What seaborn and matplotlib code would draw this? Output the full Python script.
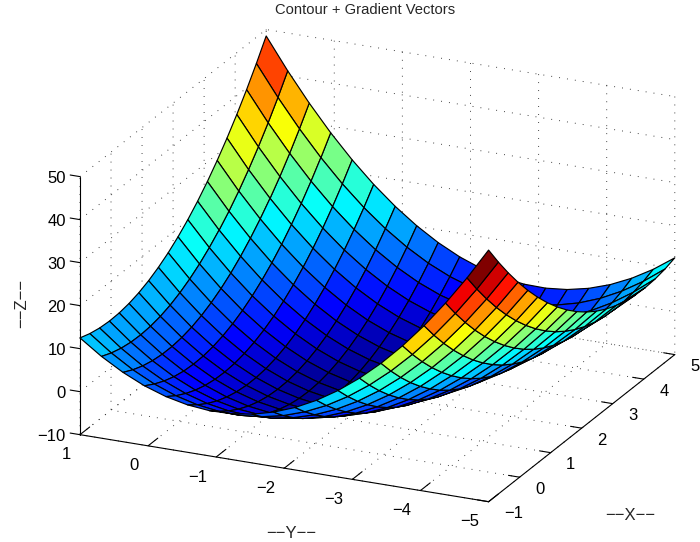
import matplotlib
matplotlib.use("Agg")
import matplotlib.pyplot as plt
from matplotlib.colors import LinearSegmentedColormap, Normalize
import numpy as np
import seaborn as sns

x_values = [-1.0, -0.684, -0.368, -0.053, 0.263, 0.579, 0.895, 1.211, 1.526, 1.842,
            2.158, 2.474, 2.789, 3.105, 3.421, 3.737, 4.053, 4.368, 4.684, 5.0]
y_values = [-5.0, -4.684, -4.368, -4.053, -3.737, -3.421, -3.105, -2.789, -2.474, -2.158,
            -1.842, -1.526, -1.211, -0.895, -0.579, -0.263, 0.053, 0.368, 0.684, 1.0]
z_values = [
    [48.50,41.22,34.54,28.46,22.97,18.08,13.80,10.11,7.02,4.52,2.63,1.33,0.63,0.53,1.03,2.13,3.82,6.12,9.01,12.50],
    [43.91,36.83,30.35,24.47,19.18,14.49,10.41,6.92,4.02,1.73,0.03,-1.06,-1.56,-1.46,-0.76,0.53,2.43,4.92,8.01,11.70],
    [39.62,32.74,26.46,20.78,15.69,11.20,7.31,4.02,1.33,-0.76,-2.26,-3.16,-3.46,-3.16,-2.26,-0.76,1.33,4.02,7.31,11.20],
    [35.64,28.95,22.87,17.39,12.50,8.21,4.52,1.43,-1.06,-2.96,-4.25,-4.95,-5.05,-4.55,-3.46,-1.76,0.53,3.43,6.92,11.00],
    [31.95,25.46,19.58,14.30,9.61,5.52,2.03,-0.86,-3.16,-4.85,-5.95,-6.45,-6.35,-5.65,-4.35,-2.46,0.03,3.13,6.82,11.10],
    [28.56,22.27,16.59,11.50,7.02,3.13,-0.16,-2.86,-4.95,-6.45,-7.34,-7.64,-7.34,-6.45,-4.95,-2.86,-0.16,3.13,7.02,11.50],
    [25.46,19.38,13.90,9.01,4.72,1.03,-2.06,-4.55,-6.45,-7.74,-8.44,-8.54,-8.04,-6.95,-5.25,-2.96,-0.07,3.43,7.51,12.20],
    [22.67,16.79,11.50,6.82,2.73,-0.76,-3.65,-5.95,-7.64,-8.74,-9.24,-9.14,-8.44,-7.15,-5.25,-2.76,0.33,4.02,8.31,13.20],
    [20.18,14.50,9.41,4.92,1.03,-2.26,-4.95,-7.05,-8.54,-9.44,-9.74,-9.44,-8.54,-7.05,-4.95,-2.26,1.03,4.92,9.41,14.50],
    [17.99,12.50,7.61,3.33,-0.36,-3.46,-5.95,-7.84,-9.14,-9.84,-9.94,-9.44,-8.34,-6.65,-4.35,-1.46,2.03,6.12,10.81,16.09],
    [16.09,10.81,6.12,2.03,-1.46,-4.35,-6.65,-8.34,-9.44,-9.94,-9.84,-9.14,-7.84,-5.95,-3.46,-0.36,3.33,7.61,12.50,17.99],
    [14.50,9.41,4.92,1.03,-2.26,-4.95,-7.05,-8.54,-9.44,-9.74,-9.44,-8.54,-7.05,-4.95,-2.26,1.03,4.92,9.41,14.50,20.18],
    [13.20,8.31,4.02,0.33,-2.76,-5.25,-7.15,-8.44,-9.14,-9.24,-8.74,-7.64,-5.95,-3.65,-0.76,2.73,6.82,11.50,16.79,22.67],
    [12.20,7.51,3.43,-0.07,-2.96,-5.25,-6.95,-8.04,-8.54,-8.44,-7.74,-6.45,-4.55,-2.06,1.03,4.72,9.01,13.90,19.38,25.46],
    [11.50,7.02,3.13,-0.16,-2.86,-4.95,-6.45,-7.34,-7.64,-7.34,-6.45,-4.95,-2.86,-0.16,3.13,7.02,11.50,16.59,22.27,28.56],
    [11.10,6.82,3.13,0.03,-2.46,-4.35,-5.65,-6.35,-6.45,-5.95,-4.85,-3.16,-0.86,2.03,5.52,9.61,14.30,19.58,25.46,31.95],
    [11.00,6.92,3.43,0.53,-1.76,-3.46,-4.55,-5.05,-4.95,-4.25,-2.96,-1.06,1.43,4.52,8.21,12.50,17.39,22.87,28.95,35.64],
    [11.20,7.31,4.02,1.33,-0.76,-2.26,-3.16,-3.46,-3.16,-2.26,-0.76,1.33,4.02,7.31,11.20,15.69,20.78,26.46,32.74,39.62],
    [11.70,8.01,4.92,2.43,0.53,-0.76,-1.46,-1.56,-1.06,0.03,1.73,4.02,6.92,10.41,14.49,19.18,24.47,30.35,36.83,43.91],
    [12.50,9.01,6.12,3.82,2.13,1.03,0.53,0.63,1.33,2.63,4.52,7.02,10.11,13.80,18.08,22.97,28.46,34.54,41.22,48.50],
]
x_ticks = [-1, 0, 1, 2, 3, 4, 5]
y_ticks = [-5, -4, -3, -2, -1, 0, 1]
z_ticks = [-10, 0, 10, 20, 30, 40, 50]
title = "Contour + Gradient Vectors"
x_label = "\u2212\u2212X\u2212\u2212"
y_label = "\u2212\u2212Y\u2212\u2212"
z_label = "\u2212\u2212Z\u2212\u2212"

sns.set_style("white")
plt.rcParams["font.family"] = ["Liberation Sans", "DejaVu Sans"]

W, H = 700, 542
fig = plt.figure(figsize=(W / 100, H / 100), dpi=100, facecolor="white")
side = 672.4
ax = fig.add_axes([32.1 / W, -68.9 / H, side / W, side / H], projection="3d")
ax.patch.set_alpha(0)
ax.set_proj_type("ortho")
ax.view_init(elev=21.1, azim=204.5)
ax.set_box_aspect((1, 1, 0.616))

X, Y = np.meshgrid(x_values, y_values, indexing="ij")
Z = np.array(z_values)
jet_segments = {
    "red": [(0, 0, 0), (0.375, 0, 0), (0.625, 1, 1), (0.875, 1, 1), (1, 0.5, 0.5)],
    "green": [(0, 0, 0), (0.125, 0, 0), (0.375, 1, 1), (0.625, 1, 1), (0.875, 0, 0), (1, 0, 0)],
    "blue": [(0, 0.5625, 0.5625), (0.125, 1, 1), (0.375, 1, 1), (0.625, 0, 0), (1, 0, 0)],
}
cmap = LinearSegmentedColormap("matlab_jet", jet_segments, N=64)
norm = Normalize(Z.min(), Z.max())
ax.plot_surface(X, Y, Z, rstride=1, cstride=1, facecolors=cmap(norm(Z)), shade=False,
                edgecolor="black", linewidth=0.85, antialiased=True)

ax.set_xlim(-1, 5, view_margin=0)
ax.set_ylim(-5, 1, view_margin=0)
ax.set_zlim(-10, 50, view_margin=0)


def fmt(values):
    return [str(v).replace("-", "\u2212") for v in values]


ax.set_xticks(x_ticks)
ax.set_yticks(y_ticks)
ax.set_zticks(z_ticks)
ax.xaxis.set_ticklabels(fmt(x_ticks), ha="left", va="center", fontsize=12)
ax.yaxis.set_ticklabels(fmt(y_ticks), ha="right", va="center", fontsize=12)
ax.zaxis.set_ticklabels(fmt(z_ticks), ha="right", va="center", fontsize=12)

outward = {"x": 0.34, "y": 0.65, "z": 0.30}
pads = {"x": 1.5, "y": 4.5, "z": -2}
for name, axis in (("x", ax.xaxis), ("y", ax.yaxis), ("z", ax.zaxis)):
    axis.pane.set_facecolor((1, 1, 1, 0))
    axis.pane.set_edgecolor((1, 1, 1, 0))
    axis.line.set_color("black")
    axis.line.set_linewidth(0.8)
    axis._axinfo["grid"].update(color="#303030", linewidth=0.7, linestyle=(0, (0.9, 7.3)))
    axis._axinfo["tick"].update(inward_factor=0.0, outward_factor=outward[name],
                                linewidth={True: 0.8, False: 0.5})
    axis.set_tick_params(pad=pads[name], colors="black")
ax.zaxis._AXINFO = {k: dict(v) for k, v in ax.zaxis._AXINFO.items()}
ax.zaxis._AXINFO["z"]["tickdir"] = 1
ax.grid(True)

tf = fig.transFigure
ax.text2D(365 / W, 1 - 10 / H, title, transform=tf, ha="center", va="center", fontsize=10.6)
ax.text2D(630 / W, 1 - 515 / H, x_label, transform=tf, ha="center", va="center", fontsize=12)
ax.text2D(291 / W, 1 - 533 / H, y_label, transform=tf, ha="center", va="center", fontsize=12)
ax.text2D(22 / W, 1 - 303 / H, z_label, transform=tf, ha="center", va="center", fontsize=12, rotation=90)

fig.savefig("out.png", dpi=100)
